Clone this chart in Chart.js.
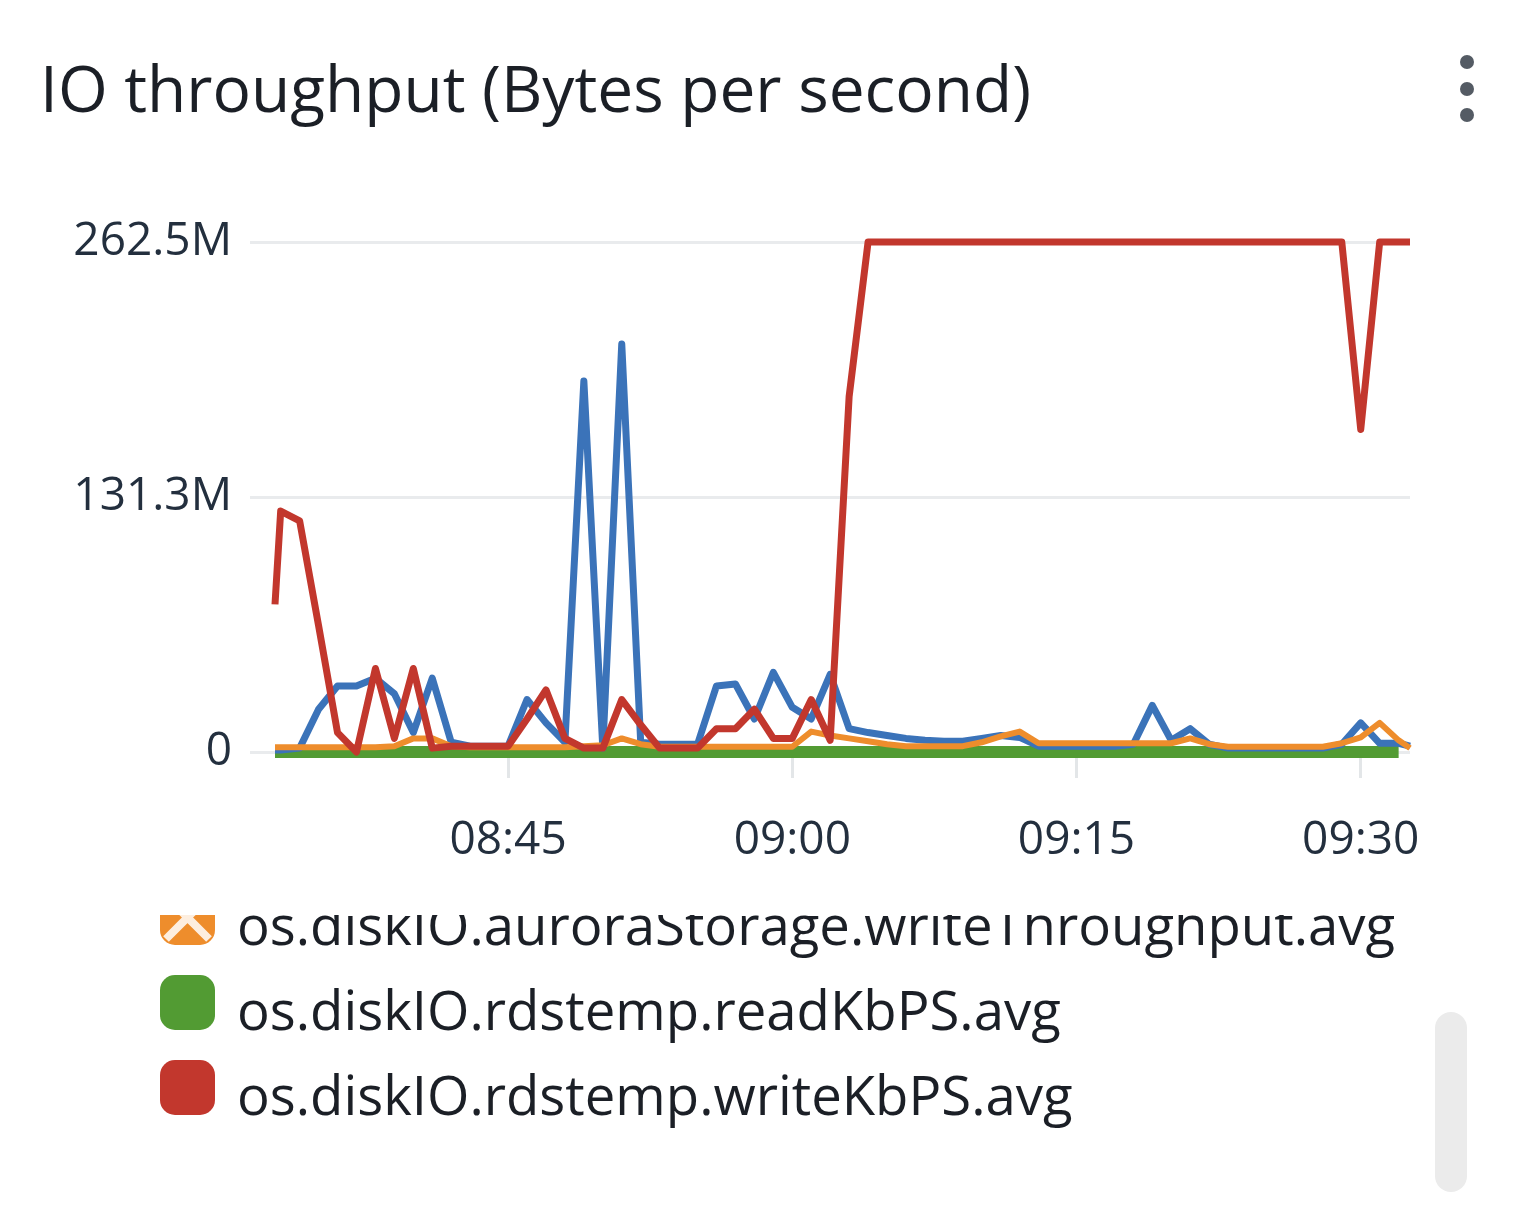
<!DOCTYPE html>
<html>
<head>
<meta charset="utf-8">
<script src="https://cdn.jsdelivr.net/npm/chart.js@4.4.1/dist/chart.umd.min.js"></script>
<style>
  body { margin:0; background:#fff; font-family:'Open Sans', sans-serif; color:#16191f; }
  #wrap { position:relative; width:1518px; height:1220px; overflow:hidden; }
  #title { position:absolute; left:40px; top:56px; font-size:64px; line-height:64px; white-space:nowrap; color:#1b1f26; }
  .dot { position:absolute; left:1460px; width:14px; height:14px; border-radius:50%; background:#545b64; }
  #chart { position:absolute; left:0; top:150px; }
  #legend { position:absolute; left:0; top:915px; width:1425px; height:290px; overflow:hidden; }
  .item { position:absolute; left:0; width:1425px; height:85px; }
  .item .mark { position:absolute; left:160px; top:0; width:55px; height:55px; border-radius:15px; overflow:hidden; }
  .item .lab { position:absolute; left:237px; top:7px; font-size:54.5px; line-height:54.5px; white-space:nowrap; color:#1b1f26; }
  #thumb { position:absolute; left:1435px; top:1012px; width:32px; height:180px; border-radius:16px; background:#ebebeb; }
</style>
</head>
<body>
<div id="wrap">
  <div id="title">IO throughput (Bytes per second)</div>
  <div class="dot" style="top:55px"></div>
  <div class="dot" style="top:82px"></div>
  <div class="dot" style="top:108px"></div>
  <canvas id="chart" width="1518" height="760"></canvas>
  <div id="legend"></div>
  <div id="thumb"></div>
</div>
<script>
// sample times (first and last are the window edges)
const times = ['08:32:42','08:33','08:34','08:35','08:36','08:37','08:38','08:39','08:40','08:41',
  '08:42','08:43','08:44','08:45','08:46','08:47','08:48','08:49','08:50','08:51',
  '08:52','08:53','08:54','08:55','08:56','08:57','08:58','08:59','09:00','09:01',
  '09:02','09:03','09:04','09:05','09:06','09:07','09:08','09:09','09:10','09:11',
  '09:12','09:13','09:14','09:15','09:16','09:17','09:18','09:19','09:20','09:21',
  '09:22','09:23','09:24','09:25','09:26','09:27','09:28','09:29','09:30','09:31',
  '09:32','09:32:36'];

// values in MB/s (M)
const auroraRead = [1,1,2,22,34,34,38,30,10,38, 5,3,3,3,27,15,5,191,2,210,
  5,4,4,4,34,35,17,41,23,17, 40,12,10,8.5,7,6,5.5,5.5,7,8.5,
  7.5,3,3,3,3,3,4,24,6,12, 4,2,2,2,2,2,2,4,15,4.5, 4.5,3];
const auroraWrite = [2.5,2.5,2.5,2.5,2.5,2.5,2.5,3,7,7, 3,2.5,2.5,2.5,2.5,2.5,2.5,3,3.5,7,
  4,2.7,2.7,2.7,2.7,2.7,2.7,2.7,2.7,10.5, 8.5,7,5.5,4,3,3,3,3,5,8,
  10.5,4.5,4.5,4.5,4.5,4.5,4.5,4.5,4.5,7, 4,2.7,2.7,2.7,2.7,2.7,2.7,4.5,7.5,15, 6,2];
const tempRead = [0,0,0,0,0,0,0,0,0,0, 0,0,0,0,0,0,0,0,0,0,
  0,0,0,0,0,0,0,0,0,0, 0,0,0,0,0,0,0,0,0,0,
  0,0,0,0,0,0,0,0,0,0, 0,0,0,0,0,0,0,0,0,0, 0,null];
const tempWrite = [76,124,119,65,10,0,43,7,43,2, 3,3,3,3,17,32,7,2,2,27,
  14,2,2,2,12,12,22,7,7,27, 6,183,262.5,262.5,262.5,262.5,262.5,262.5,262.5,262.5,
  262.5,262.5,262.5,262.5,262.5,262.5,262.5,262.5,262.5,262.5,
  262.5,262.5,262.5,262.5,262.5,262.5,262.5,262.5,166,262.5, 262.5,262.5];

const seriesNames = ['os.diskIO.auroraStorage.readThroughput.avg', 'os.diskIO.auroraStorage.writeThroughput.avg',
  'os.diskIO.rdstemp.readKbPS.avg', 'os.diskIO.rdstemp.writeKbPS.avg'];
const seriesColors = ['#3b73b9', '#ee8d2c', '#529b33', '#c2372d'];

const yTicks = [0, 131.25, 262.5];
const yTickLabels = ['0', '131.3M', '262.5M'];
const xTickLabels = ['08:45', '09:00', '09:15', '09:30'];

function toMin(t) {
  const p = t.split(':').map(Number);
  return p[0] * 60 + p[1] + (p[2] || 0) / 60;
}
const xs = times.map(toMin);
const pts = arr => arr.map((v, i) => ({ x: xs[i], y: v }));

const allSeries = [auroraRead, auroraWrite, tempRead, tempWrite];
const widths = [7, 6, 12, 7];
const drawOrder = [2, 1, 3, 0];

new Chart(document.getElementById('chart'), {
  type: 'line',
  data: {
    datasets: allSeries.map((s, i) => ({
      label: seriesNames[i],
      data: pts(s),
      borderColor: seriesColors[i],
      backgroundColor: seriesColors[i],
      borderWidth: widths[i],
      pointRadius: 0,
      tension: 0,
      order: drawOrder[i],
      clip: 8,
      borderJoinStyle: 'round'
    }))
  },
  options: {
    responsive: false,
    animation: false,
    layout: { padding: { top: 92, right: 108, left: 0, bottom: 0 } },
    plugins: { legend: { display: false }, tooltip: { enabled: false } },
    scales: {
      x: {
        type: 'linear',
        min: xs[0], max: xs[xs.length - 1],
        afterBuildTicks: sc => { sc.ticks = xTickLabels.map(t => ({ value: toMin(t) })); },
        afterFit: sc => { sc.height = 158; },
        border: { display: false },
        grid: { drawOnChartArea: false, tickLength: 26, color: '#e3e6e8', lineWidth: 3 },
        ticks: {
          autoSkip: false, maxRotation: 0, padding: 35,
          color: '#232f3e', font: { family: 'Open Sans', size: 46 },
          callback: v => xTickLabels[xTickLabels.map(toMin).findIndex(m => Math.abs(m - v) < 0.01)]
        }
      },
      y: {
        min: 0, max: 262.5,
        afterBuildTicks: sc => { sc.ticks = yTicks.map(v => ({ value: v })); },
        afterFit: sc => { sc.width = 275; },
        border: { display: false },
        grid: { tickLength: 25, color: '#e9ebed', lineWidth: 3 },
        ticks: {
          padding: 18, color: '#232f3e', font: { family: 'Open Sans', size: 46 },
          callback: v => yTickLabels[yTicks.indexOf(v)]
        }
      }
    }
  }
});

// html legend, scrolled so the first entry is out of view
const rowTops = [-110, -25, 60, 145];
const legendEl = document.getElementById('legend');
legendEl.innerHTML = seriesNames.map((n, i) =>
  '<div class="item" style="top:' + rowTops[i] + 'px">' +
  '<div class="mark" style="background:' + seriesColors[i] + '">' +
  (i === 1 ? '<svg width="55" height="55"><path d="M6 6 L49 49 M49 6 L6 49" stroke="rgba(255,255,255,0.85)" stroke-width="8"/></svg>' : '') +
  '</div>' +
  '<div class="lab">' + n + '</div></div>'
).join('');
</script>
</body>
</html>
